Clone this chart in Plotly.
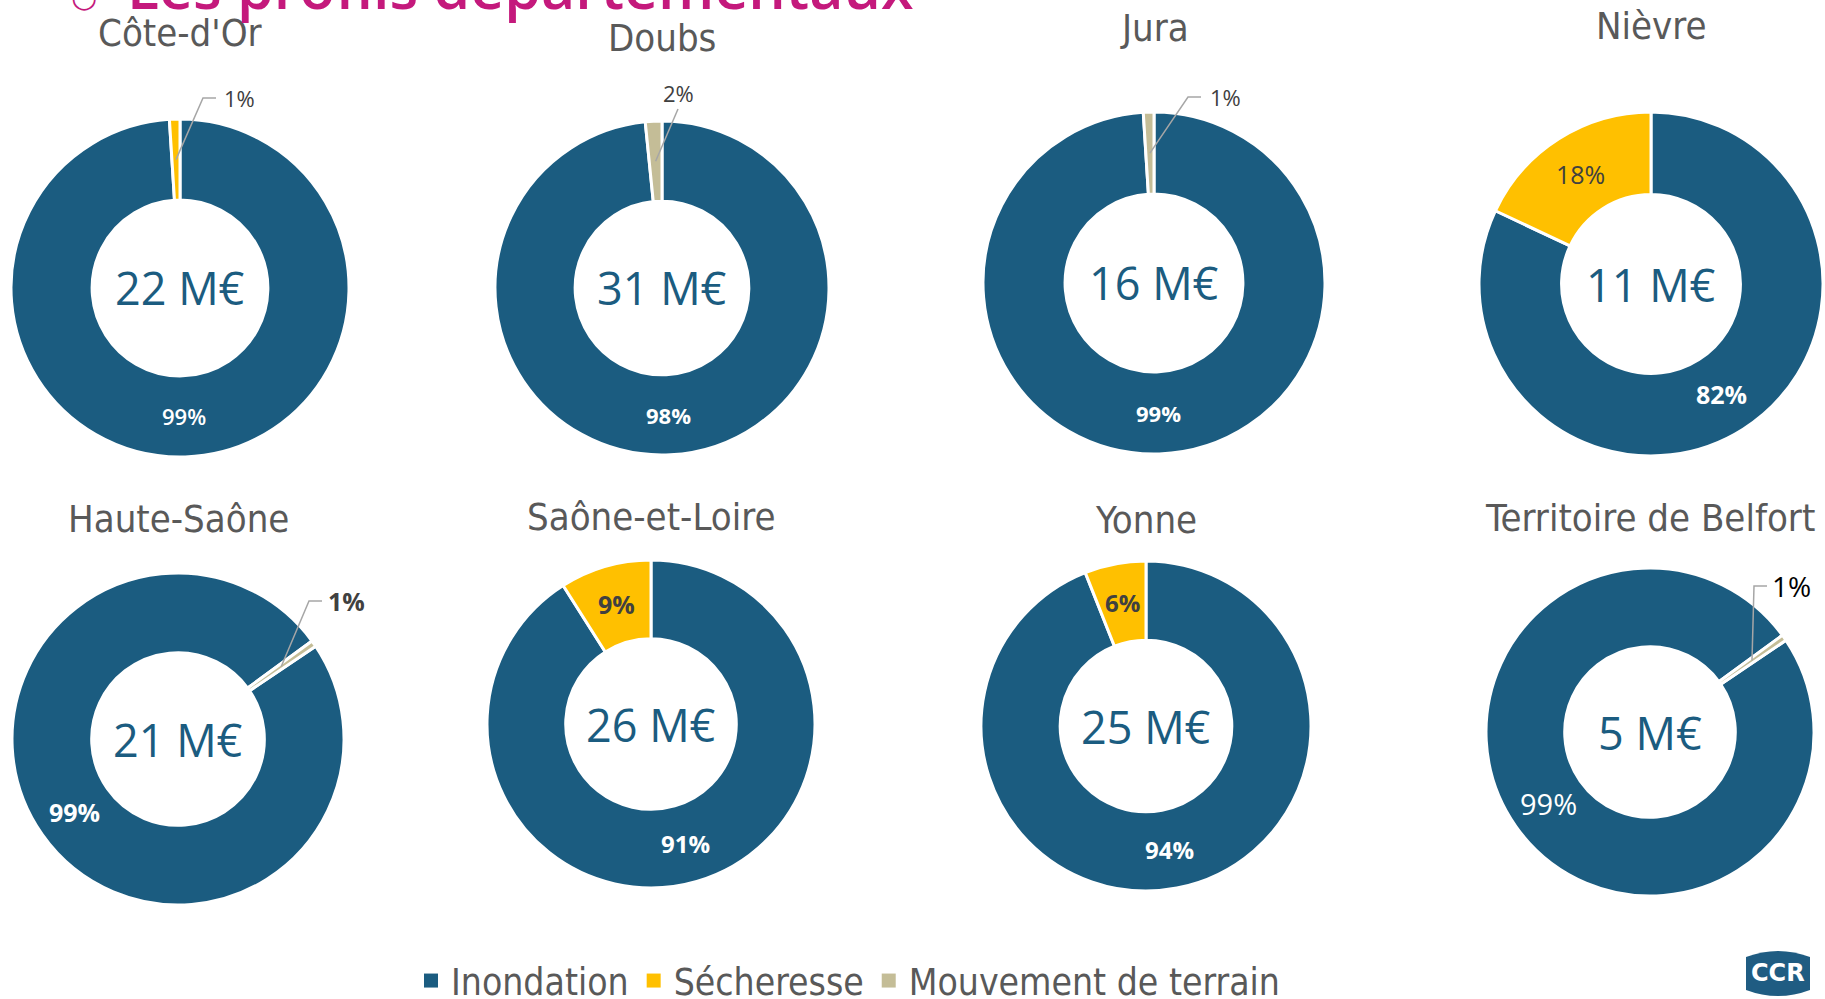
import math
import plotly.graph_objects as go

# --- données ---
departements = ["Côte-d'Or", "Doubs", "Jura", "Nièvre",
                "Haute-Saône", "Saône-et-Loire", "Yonne", "Territoire de Belfort"]
totaux_meur = [22, 31, 16, 11, 21, 26, 25, 5]
perils = ["Inondation", "Sécheresse", "Mouvement de terrain"]
inondation = [99.0, 98.4, 99.0, 82.0, 99.4, 91.0, 94.0, 99.4]
secheresse = [1.0, 0.0, 0.0, 18.0, 0.0, 9.0, 6.0, 0.0]
mouvement = [0.0, 1.6, 1.0, 0.0, 0.6, 0.0, 0.0, 0.6]

# --- mise en page (pixels) ---
W, H = 1825, 999
couleurs = {"Inondation": "#1B5C80", "Sécheresse": "#FFC000", "Mouvement de terrain": "#C4BD97"}
centres = [(180, 288, 169), (662, 288, 167), (1154, 283, 171), (1651, 284, 172),
           (178, 739, 166), (651, 724, 164), (1146, 726, 165), (1650, 732, 164)]
rotations = [0, 0, 0, 0, 56, 0, 0, 56]
titre_y = [33, 38, 28, 26, 519, 517, 520, 518]
HOLE = 0.52
# étiquettes extérieures (décalage par rapport au centre) + style
ext_offset = {0: (60, -190), 1: (16, -195), 2: (71, -186), 4: (168, -138), 7: (141, -146)}
coude = {0: True, 1: False, 2: True, 4: True, 7: True}
taille_lbl = [22, 22, 22, 25, 25, 24, 24, 29]
gras_lbl = [600, 700, 700, 700, 700, 700, 700, 400]
ext_style = {0: (22, 400, "#404040"), 1: (22, 400, "#404040"), 2: (22, 400, "#404040"),
             4: (25, 700, "#404040"), 7: (28, 400, "#000000")}
inner_style = {3: (25, 400), 5: (25, 700), 6: (24, 700)}

POL_TITRE = "Liberation Sans Narrow, DejaVu Sans Condensed, sans-serif"
POL_LBL = "Open Sans, Noto Sans, sans-serif"


def px(x):
    return x / W


def py(y):
    return 1 - y / H


fig = go.Figure()
annotations = []
shapes = []

for i, nom in enumerate(departements):
    cx, cy, R = centres[i]
    vals = [inondation[i], secheresse[i], mouvement[i]]
    labs = [p for p, v in zip(perils, vals) if v > 0]
    vs = [v for v in vals if v > 0]
    fig.add_trace(go.Pie(
        labels=labs, values=vs, hole=HOLE, sort=False, direction="clockwise",
        rotation=rotations[i], textinfo="none", hoverinfo="label+percent",
        marker=dict(colors=[couleurs[l] for l in labs], line=dict(color="white", width=3)),
        domain=dict(x=[px(cx - R), px(cx + R)], y=[py(cy + R), py(cy - R)]),
        name=nom, showlegend=False,
    ))

    # titre du département
    annotations.append(dict(x=px(cx), y=py(titre_y[i]), xref="paper", yref="paper",
                            text=nom, showarrow=False, xanchor="center", yanchor="middle",
                            font=dict(family=POL_TITRE, size=38, color="#595959")))
    # montant au centre
    annotations.append(dict(x=px(cx), y=py(cy), xref="paper", yref="paper",
                            text=f"{totaux_meur[i]} M€", showarrow=False,
                            xanchor="center", yanchor="middle",
                            font=dict(family=POL_LBL, size=45, color="#1B5C80")))

    # pourcentages
    total = sum(vs)
    cumul = 0
    rho = (1 + HOLE) / 2 * R
    for j, (l, v) in enumerate(zip(labs, vs)):
        theta = math.radians(rotations[i] + (cumul + v / 2) / total * 360)
        cumul += v
        txt = f"{round(v)}%"
        if v >= 3:
            x = cx + rho * math.sin(theta)
            y = cy - rho * math.cos(theta)
            if l == "Inondation":
                col, size, w = "white", taille_lbl[i], gras_lbl[i]
            else:
                size, w = inner_style[i]
                col = "#404040"
            annotations.append(dict(x=px(x), y=py(y), xref="paper", yref="paper", text=txt,
                                    showarrow=False, xanchor="center", yanchor="middle",
                                    font=dict(family=POL_LBL, size=size, color=col, weight=w)))
        else:
            dx, dy = ext_offset[i]
            lx, ly = cx + dx, cy + dy
            size, w, col = ext_style[i]
            annotations.append(dict(x=px(lx), y=py(ly), xref="paper", yref="paper", text=txt,
                                    showarrow=False, xanchor="center", yanchor="middle",
                                    font=dict(family=POL_LBL, size=size, color=col, weight=w)))
            ex = cx + 0.76 * R * math.sin(theta)
            ey = cy - 0.76 * R * math.cos(theta)
            if coude[i]:
                path = (f"M {px(ex)},{py(ey)} L {px(lx - 37)},{py(ly)} "
                        f"L {px(lx - 24)},{py(ly)}")
            else:
                path = f"M {px(ex)},{py(ey)} L {px(lx)},{py(ly + 16)}"
            shapes.append(dict(type="path", xref="paper", yref="paper", path=path,
                               line=dict(color="#A6A6A6", width=1.5)))

# légende : traces factices à marqueurs carrés
for p in perils:
    fig.add_trace(go.Scatter(x=[None], y=[None], mode="markers", name=p,
                             marker=dict(symbol="square", size=14, color=couleurs[p]),
                             showlegend=True, hoverinfo="skip"))

# titre de la diapositive (coupé en haut)
annotations.append(dict(x=px(125), y=py(15), xref="paper", yref="paper",
                        text="Les profils départementaux", showarrow=False,
                        xanchor="left", yanchor="bottom", yshift=-13,
                        font=dict(family=POL_LBL, size=59, color="#C4197C", weight=600)))
annotations.append(dict(x=px(84), y=py(-4), xref="paper", yref="paper",
                        text="○", showarrow=False, xanchor="center", yanchor="middle",
                        font=dict(family="DejaVu Sans", size=30, color="#C4197C")))

# logo CCR
shapes.append(dict(type="path", xref="paper", yref="paper",
                   path=(f"M {px(1746)},{py(957)} Q {px(1778)},{py(945)} {px(1810)},{py(957)} "
                         f"L {px(1810)},{py(990)} Q {px(1778)},{py(1002)} {px(1746)},{py(990)} Z"),
                   fillcolor="#1F5C82", line=dict(width=0)))
annotations.append(dict(x=px(1778), y=py(973), xref="paper", yref="paper", text="<b>CCR</b>",
                        showarrow=False, xanchor="center", yanchor="middle",
                        font=dict(family="DejaVu Sans", size=24, color="white")))

fig.update_layout(
    width=W, height=H, margin=dict(l=0, r=0, t=0, b=0, autoexpand=False),
    paper_bgcolor="white", plot_bgcolor="white",
    xaxis=dict(visible=False), yaxis=dict(visible=False),
    annotations=annotations, shapes=shapes,
    showlegend=True,
    legend=dict(orientation="h", x=px(848), xanchor="center", y=py(981), yanchor="middle",
                font=dict(family=POL_TITRE, size=37, color="#595959"),
                itemclick=False, itemwidth=30, tracegroupgap=0),
)

fig.write_html("out.html", config={"displayModeBar": False},
               post_script="document.body.style.margin='0';document.body.style.overflow='hidden';")
